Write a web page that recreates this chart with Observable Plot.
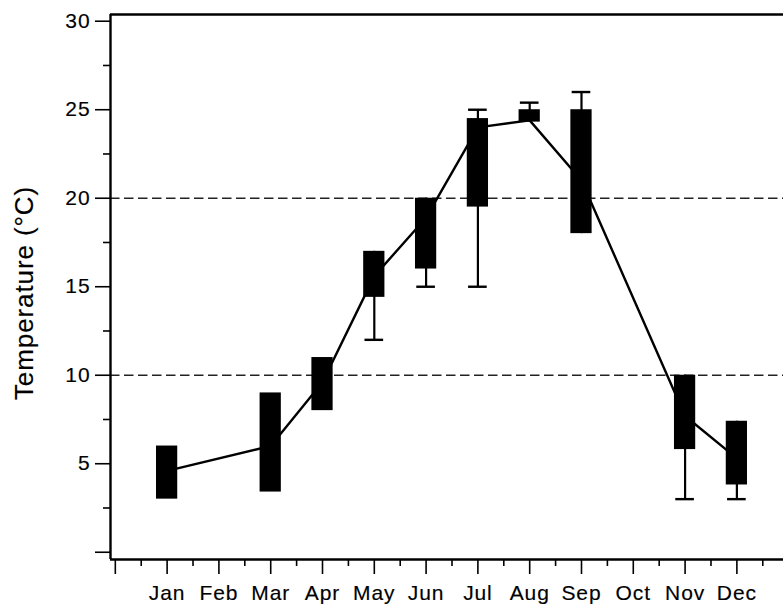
<!DOCTYPE html>
<html>
<head>
<meta charset="utf-8">
<script src="https://cdn.jsdelivr.net/npm/d3@7"></script>
<script src="https://cdn.jsdelivr.net/npm/@observablehq/plot@0.6"></script>
<style>
  html, body { margin: 0; padding: 0; background: #fff; }
  #chart svg { display: block; }
</style>
</head>
<body>
<div id="chart"></div>
<script>
// ---- data ----
const monthNames = ["Jan","Feb","Mar","Apr","May","Jun","Jul","Aug","Sep","Oct","Nov","Dec"];
const monthIndex = [1, 3, 4, 5, 6, 7, 8, 9, 11, 12];
const boxLow      = [3.0, 3.4, 8.0, 14.4, 16.0, 19.5, 24.3, 18.0, 5.8, 3.8];
const boxHigh     = [6.0, 9.0, 11.0, 17.0, 20.0, 24.5, 25.0, 25.0, 10.0, 7.4];
const whiskerLow  = [3.0, 3.4, 8.0, 12.0, 15.0, 15.0, 24.3, 18.0, 3.0, 3.0];
const whiskerHigh = [6.0, 9.0, 11.0, 17.0, 20.0, 25.0, 25.4, 26.0, 10.0, 7.4];
const meanTemp    = [4.6, 6.0, 9.6, 15.6, 18.9, 24.0, 24.4, 21.0, 7.7, 5.3];
const referenceLines = [10, 20];
const yMajorTicks = [0, 5, 10, 15, 20, 25, 30];
const yMinorTicks = [2.5, 7.5, 12.5, 17.5, 22.5, 27.5];
const xMajorTicks = [0, 1, 2, 3, 4, 5, 6, 7, 8, 9, 10, 11, 12];
const xMinorTicks = [0.5, 1.5, 2.5, 3.5, 4.5, 5.5, 6.5, 7.5, 8.5, 9.5, 10.5, 11.5, 12.5];
const yLabel = "Temperature (°C)";

const rows = monthIndex.map((m, i) => ({
  month: m, low: boxLow[i], high: boxHigh[i],
  wLow: whiskerLow[i], wHigh: whiskerHigh[i], mean: meanTemp[i]
}));

const xDomain = [-0.093, 12.9];
const yDomain = [-0.41, 30.38];
const font = "'Liberation Sans', Arial, Helvetica, sans-serif";

const chart = Plot.plot({
  width: 783,
  height: 607,
  marginLeft: 110,
  marginRight: 0,
  marginTop: 14,
  marginBottom: 48,
  style: { fontFamily: font, color: "#000", background: "#fff", overflow: "visible" },
  x: { domain: xDomain },
  y: { domain: yDomain },
  marks: [
    // dashed reference lines
    Plot.ruleY(referenceLines, { stroke: "#222", strokeWidth: 1.4, strokeDasharray: "9.5,4.5" }),
    // whiskers
    Plot.ruleX(rows.filter(d => d.wLow < d.low || d.wHigh > d.high), { x: "month", y1: "wLow", y2: "wHigh", stroke: "#000", strokeWidth: 2.2 }),
    Plot.ruleY(rows.filter(d => d.wLow < d.low), { y: "wLow", x1: d => d.month - 0.18, x2: d => d.month + 0.18, stroke: "#000", strokeWidth: 2.4 }),
    Plot.ruleY(rows.filter(d => d.wHigh > d.high), { y: "wHigh", x1: d => d.month - 0.18, x2: d => d.month + 0.18, stroke: "#000", strokeWidth: 2.4 }),
    // boxes
    Plot.rect(rows, { x1: d => d.month - 0.205, x2: d => d.month + 0.205, y1: "low", y2: "high", fill: "#000" }),
    // mean line
    Plot.line(rows, { x: "month", y: "mean", stroke: "#000", strokeWidth: 2.4 }),
    // frame (top, left, bottom)
    Plot.ruleY([yDomain[0]], { stroke: "#000", strokeWidth: 2.4 }),
    Plot.ruleY([yDomain[1]], { stroke: "#000", strokeWidth: 2.4 }),
    Plot.ruleX([xDomain[0]], { stroke: "#000", strokeWidth: 2.4 }),
    // y axis
    Plot.axisY(yMajorTicks, {
      tickSize: 15, tickPadding: 5, strokeWidth: 1.6,
      tickFormat: d => d === 0 ? "" : String(d),
      fontSize: 21, label: null
    }),
    Plot.axisY(yMinorTicks, { tickSize: 7, strokeWidth: 1.6, tickFormat: () => "", label: null }),
    // x axis
    Plot.axisX(xMajorTicks, {
      tickSize: 15, tickPadding: 11, strokeWidth: 1.6,
      tickFormat: d => (d >= 1 && d <= 12) ? monthNames[d - 1] : "",
      fontSize: 21, label: null
    }),
    Plot.axisX(xMinorTicks, { tickSize: 7, strokeWidth: 1.6, tickFormat: () => "", label: null }),
    // y axis title
    Plot.text([yLabel], { frameAnchor: "left", textAnchor: "middle", rotate: -90, dx: -86, dy: 6, fontSize: 26, fill: "#000" })
  ]
});

document.getElementById("chart").appendChild(chart);
d3.select(chart).selectAll("text")
  .style("letter-spacing", "0.9px")
  .attr("stroke", "#000")
  .attr("stroke-width", 0.15)
  .attr("paint-order", "stroke");
</script>
</body>
</html>
